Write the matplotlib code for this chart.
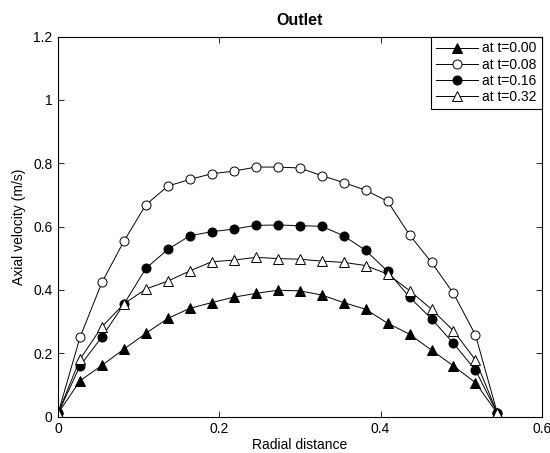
import numpy as np
import matplotlib
matplotlib.use('Agg')
import matplotlib.pyplot as plt

plt.rcParams['font.family'] = ['Liberation Sans', 'DejaVu Sans']

# radial positions of the samples
radial = [0.0, 0.02725, 0.0545, 0.08175, 0.109, 0.13625, 0.1635, 0.19075,
          0.218, 0.24525, 0.2725, 0.29975, 0.327, 0.35425, 0.3815, 0.40875,
          0.436, 0.46325, 0.4905, 0.51775, 0.545]

# axial velocity at each time
vel_t000 = [0.01, 0.113, 0.162, 0.213, 0.263, 0.310, 0.342, 0.360, 0.377, 0.389,
            0.399, 0.397, 0.384, 0.360, 0.339, 0.295, 0.260, 0.210, 0.160, 0.107, 0.01]
vel_t008 = [0.01, 0.250, 0.424, 0.554, 0.669, 0.728, 0.749, 0.767, 0.775, 0.788,
            0.788, 0.785, 0.761, 0.739, 0.715, 0.680, 0.574, 0.487, 0.389, 0.258, 0.01]
vel_t016 = [0.01, 0.160, 0.252, 0.355, 0.468, 0.528, 0.571, 0.584, 0.592, 0.604,
            0.605, 0.603, 0.601, 0.571, 0.525, 0.459, 0.377, 0.309, 0.231, 0.147, 0.01]
vel_t032 = [0.01, 0.181, 0.284, 0.356, 0.403, 0.428, 0.460, 0.489, 0.494, 0.503,
            0.499, 0.497, 0.491, 0.487, 0.477, 0.450, 0.398, 0.339, 0.271, 0.179, 0.01]

labels = ['at t=0.00', 'at t=0.08', 'at t=0.16', 'at t=0.32']
series = [vel_t000, vel_t008, vel_t016, vel_t032]
markers = ['^', 'o', 'o', '^']
faces = ['black', 'white', 'black', 'white']

fig = plt.figure(figsize=(5.5, 4.53), dpi=100)
ax = fig.add_axes([0.1055, 0.0804, 0.8795, 0.8388])

for y, m, fc, lab in zip(series, markers, faces, labels):
    ax.plot(radial, y, color='black', linewidth=0.7, marker=m, markersize=6.5,
            markerfacecolor=fc, markeredgecolor='black', markeredgewidth=0.7,
            label=lab)

ax.set_xlim(0, 0.6)
ax.set_ylim(0, 1.2)
ax.set_xticks([0, 0.2, 0.4, 0.6])
ax.set_xticklabels(['0', '0.2', '0.4', '0.6'])
ax.set_yticks([0, 0.2, 0.4, 0.6, 0.8, 1.0, 1.2])
ax.set_yticklabels(['0', '0.2', '0.4', '0.6', '0.8', '1', '1.2'])
ax.tick_params(direction='in', top=True, right=True, labelsize=10,
               length=4, width=0.6, pad=4)
for s in ax.spines.values():
    s.set_linewidth(0.8)

ax.set_title('Outlet', fontsize=11.5, fontweight='bold', pad=8)
ax.set_xlabel('Radial distance', fontsize=10, labelpad=1)
ax.set_ylabel('Axial velocity (m/s)', fontsize=10, labelpad=5)

leg = ax.legend(loc='upper right', fontsize=10, borderaxespad=0, fancybox=False,
                handlelength=3.0, handletextpad=0.35, labelspacing=0.16,
                borderpad=0.35, framealpha=1)
leg.get_frame().set_edgecolor('black')
leg.get_frame().set_linewidth(0.8)

fig.savefig('out.png', dpi=100)
